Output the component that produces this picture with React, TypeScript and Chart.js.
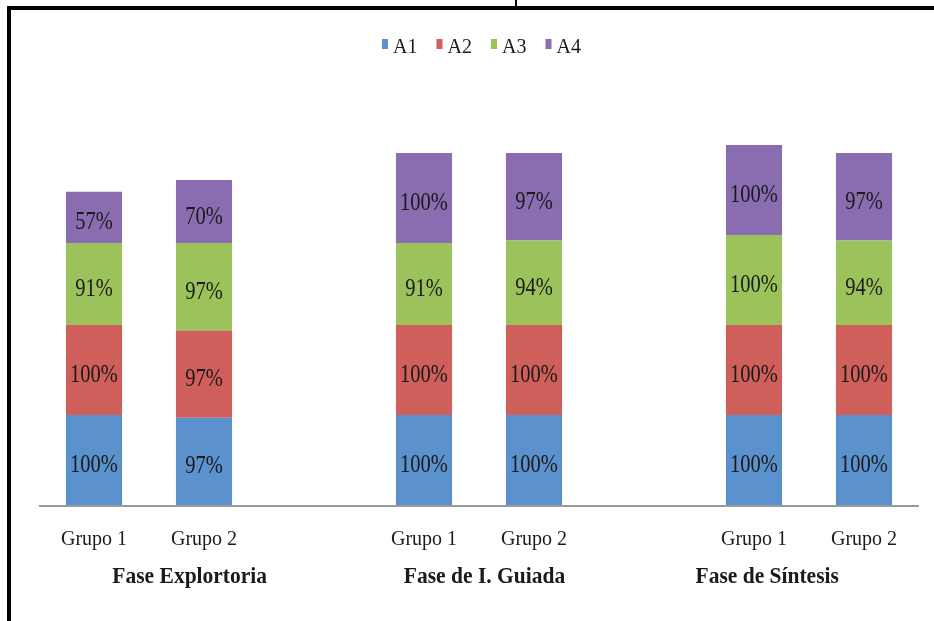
import React, { useEffect, useRef } from "react";
import { Chart, registerables } from "chart.js";

Chart.register(...registerables);

// ---- data ----
const groupLabels = ["Grupo 1", "Grupo 2", "", "Grupo 1", "Grupo 2", "", "Grupo 1", "Grupo 2"];
const phaseLabels = ["Fase Explortoria", "Fase de I. Guiada", "Fase de Síntesis"];
const seriesNames = ["A1", "A2", "A3", "A4"];
const a1Values = [100, 97, null, 100, 100, null, 100, 100];
const a2Values = [100, 97, null, 100, 100, null, 100, 100];
const a3Values = [91, 97, null, 91, 94, null, 100, 94];
const a4Values = [57, 70, null, 100, 97, null, 100, 97];

const seriesColors = ["#5b92cd", "#cf5f5a", "#9cc35b", "#8a6db1"];
const SERIF = "'Liberation Serif', 'DejaVu Serif', serif";
// phase label centres, in category-index units
const phaseAt = [0.87, 3.55, 6.12];

const decorPlugin = {
  id: "decor",
  afterDatasetsDraw(chart: any) {
    const ctx = chart.ctx as CanvasRenderingContext2D;
    const area = chart.chartArea;
    const xs = chart.scales.x;
    ctx.save();

    // data labels (slightly stretched vertically like the source)
    ctx.fillStyle = "#1a1a1a";
    ctx.font = `20.5px ${SERIF}`;
    ctx.textAlign = "center";
    ctx.textBaseline = "alphabetic";
    chart.data.datasets.forEach((ds: any, di: number) => {
      const meta = chart.getDatasetMeta(di);
      meta.data.forEach((el: any, i: number) => {
        const v = ds.data[i];
        if (v === null || v === undefined) return;
        const cy = (el.y + el.base) / 2;
        ctx.save();
        ctx.translate(el.x, cy + 12);
        ctx.scale(1, 1.22);
        ctx.fillText(`${v}%`, 0, 0);
        ctx.restore();
      });
    });

    // axis line
    ctx.strokeStyle = "#9a9a9a";
    ctx.lineWidth = 2;
    ctx.beginPath();
    ctx.moveTo(area.left, area.bottom + 1);
    ctx.lineTo(area.right, area.bottom + 1);
    ctx.stroke();

    // category labels
    ctx.fillStyle = "#1a1a1a";
    ctx.font = `20px ${SERIF}`;
    chart.data.labels.forEach((lab: string, i: number) => {
      if (!lab) return;
      ctx.save();
      ctx.translate(xs.getPixelForValue(i), area.bottom + 40);
      ctx.scale(1, 1.1);
      ctx.fillText(lab, 0, 0);
      ctx.restore();
    });

    // phase labels
    ctx.font = `bold 21.5px ${SERIF}`;
    phaseLabels.forEach((lab, i) => {
      ctx.save();
      ctx.translate(xs.getPixelForValue(phaseAt[i]), area.bottom + 78);
      ctx.scale(1, 1.1);
      ctx.fillText(lab, 0, 0);
      ctx.restore();
    });

    // legend
    ctx.textAlign = "left";
    ctx.font = `20px ${SERIF}`;
    let lx = 382;
    chart.data.datasets.forEach((ds: any) => {
      ctx.fillStyle = ds.backgroundColor;
      ctx.fillRect(lx, 39, 6, 10);
      ctx.fillStyle = "#1a1a1a";
      ctx.save();
      ctx.translate(lx + 11, 53);
      ctx.scale(1, 1.1);
      ctx.fillText(ds.label, 0, 0);
      ctx.restore();
      lx += 54.5;
    });

    // frame
    ctx.fillStyle = "#000";
    ctx.fillRect(7, 6, chart.width - 7, 4);
    ctx.fillRect(7, 6, 4, chart.height - 6);
    ctx.fillRect(515, 0, 2, 6);

    ctx.restore();
  },
};

export default function App() {
  const ref = useRef<HTMLCanvasElement | null>(null);

  useEffect(() => {
    if (!ref.current) return;
    const values = [a1Values, a2Values, a3Values, a4Values];
    const chart = new Chart(ref.current, {
      type: "bar",
      data: {
        labels: groupLabels,
        datasets: seriesNames.map((name, i) => ({
          label: name,
          data: values[i] as any,
          backgroundColor: seriesColors[i],
          borderWidth: 0,
          barPercentage: 0.51,
          categoryPercentage: 1,
        })),
      },
      options: {
        responsive: false,
        animation: false,
        devicePixelRatio: 1,
        layout: { padding: { left: 39, right: 15, top: 145, bottom: 116 } },
        plugins: {
          legend: { display: false },
          tooltip: { enabled: false },
          title: { display: false },
        },
        scales: {
          x: { stacked: true, display: false },
          y: { stacked: true, display: false, min: 0, max: 400 },
        },
      },
      plugins: [decorPlugin],
    });
    return () => chart.destroy();
  }, []);

  return (
    <div style={{ position: "fixed", left: 0, top: 0, width: 934, height: 621, background: "#fff" }}>
      <canvas ref={ref} width={934} height={621} style={{ width: 934, height: 621, display: "block" }} />
    </div>
  );
}
